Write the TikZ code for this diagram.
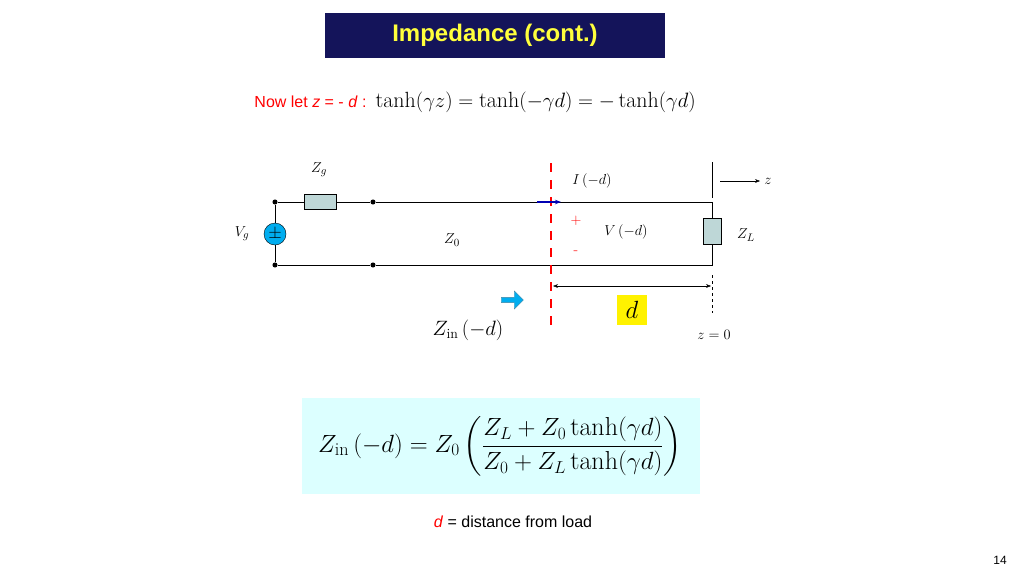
\documentclass[tikz,border=0pt]{standalone}
\usepackage{amsmath}
\usepackage{fontspec}
\setsansfont{Liberation Sans}
\usetikzlibrary{arrows.meta,shapes.arrows}
\definecolor{navy}{RGB}{20,20,90}
\definecolor{titleyel}{RGB}{255,255,60}
\definecolor{res}{RGB}{190,215,215}
\definecolor{boxcyan}{RGB}{220,255,255}
\newcommand{\fsz}[1]{\fontsize{#1}{#1}\selectfont}
\tikzset{wire/.style={thick},
  resbox/.style={draw,fill=res,minimum width=#1},
  dot/.style={circle,fill,inner sep=1.8pt},
  lbl/.style={font=\fsz{15}}}
\begin{document}
\begin{tikzpicture}[x=1pt,y=-1pt]
\useasboundingbox (0,0) rectangle (1024,576);
\node[fill=navy,minimum width=340,minimum height=45,font=\sffamily\bfseries\fsz{24},text=titleyel] (title) at (495,35) {Impedance (cont.)};
\node[font=\sffamily\fsz{16},text=red,anchor=east] (let) at (370,102) {Now let \textit{z} = - \textit{d} :};
\node[anchor=west,font=\fsz{22}] (eq) at (372,102) {$\tanh\!\left(\gamma z\right)=\tanh\!\left(-\gamma d\right)=-\tanh\!\left(\gamma d\right)$};
% circuit
\node[dot] (tl) at (275,202) {};
\node[dot] (bl) at (275,265) {};
\node[dot] (tm) at (373,202) {};
\node[dot] (bm) at (373,265) {};
\coordinate (tr) at (712,202);
\coordinate (br) at (712,265);
\node[draw,circle,fill=cyan,minimum size=22,inner sep=0,font=\fsz{16}] (src) at (275,234) {$\pm$};
\node[resbox=32,minimum height=15,inner sep=0] (zg) at (320,202) {};
\node[resbox=18,minimum height=26,inner sep=0] (zl) at (712,231) {};
\draw[wire] (tl) -- (zg) -- (tm) -- (tr) -- (zl) -- (br) -- (bm) -- (bl) -- (src) -- (tl);
\draw[red,line width=2.5pt,dash pattern=on 9pt off 8pt] (551,163) -- (551,325);
\draw[blue!70!black,line width=2pt,-{Stealth[length=6pt]}] (537,202) -- (561,202);
\coordinate (ztop) at (712,162);
\coordinate (zbot) at (712,198);
\draw (ztop) -- (zbot);
\coordinate (za) at (720,181);
\coordinate (zb) at (760,181);
\draw[-{Stealth[length=5pt]}] (za) -- (zb);
\node[lbl] (z) at (768,181) {$z$};
\coordinate (d1) at (553,286);
\coordinate (d2) at (711,286);
\draw[{Stealth[length=5pt]}-{Stealth[length=5pt]}] (d1) -- (d2);
\draw[dashed,thin] (712,275) -- (712,313);
\node[fill=yellow,minimum width=30,minimum height=30,font=\fsz{26}] (d) at (632,310) {$d$};
\node[single arrow,draw=cyan!60!black,fill=cyan,minimum height=22,single arrow head extend=3pt,minimum width=18,inner sep=1pt] (zarr) at (511,300) {};
\node[lbl] (zg_l) at (319,170) {$Z_g$};
\node[lbl] (vg) at (242,234) {$V_g$};
\node[lbl] (z0) at (452,240) {$Z_0$};
\node[lbl] (id) at (592,181) {$I\left(-d\right)$};
\node[text=red,font=\fsz{15}] (plus) at (576,221) {+};
\node[text=red,font=\fsz{15}] (minus) at (576,253) {-};
\node[lbl] (vd) at (626,232) {$V\left(-d\right)$};
\node[lbl] (zl_l) at (746,235) {$Z_L$};
\node[font=\fsz{20}] (zin) at (468,330) {$Z_{\text{in}}\left(-d\right)$};
\node[lbl] (z0pos) at (714,335) {$z=0$};
% formula
\node[fill=boxcyan,minimum width=398,minimum height=96] (fbox) at (501,446) {};
\node[font=\fsz{26}] (formula) at (500,446) {$Z_{\text{in}}\left(-d\right)=Z_0\left(\dfrac{Z_L+Z_0\tanh\!\left(\gamma d\right)}{Z_0+Z_L\tanh\!\left(\gamma d\right)}\right)$};
\node[font=\sffamily\fsz{16}] (dist) at (513,522) {{\color{red}\textit{d}} = distance from load};
\node[font=\sffamily\fsz{12}] (page) at (1000,560) {14};
\end{tikzpicture}
\end{document}
